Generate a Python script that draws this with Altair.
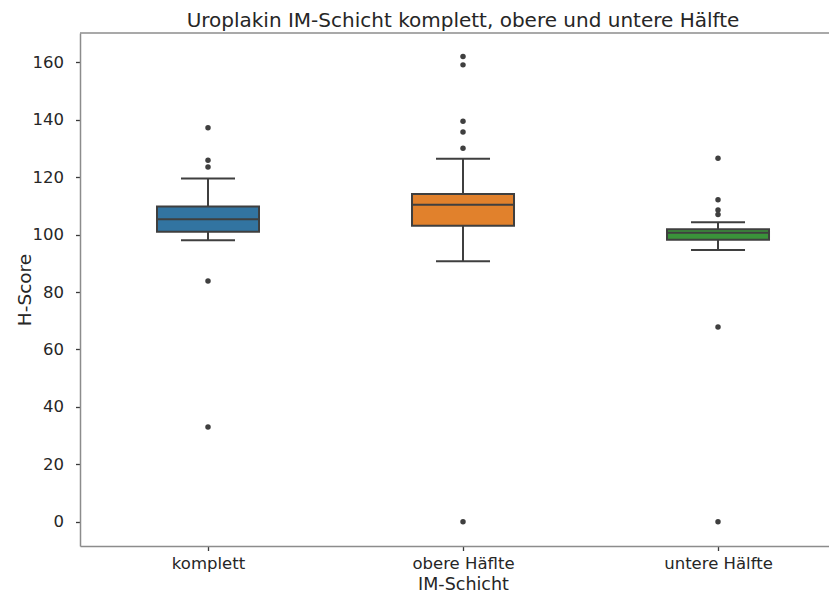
import altair as alt
import pandas as pd

categories = ["komplett", "obere Häflte", "untere Hälfte"]
q1 = [101.0, 103.1, 98.2]
median = [105.3, 110.4, 100.6]
q3 = [109.8, 114.1, 101.9]
whisker_low = [98.0, 90.7, 94.6]
whisker_high = [119.5, 126.4, 104.3]
outliers_komplett = [137.2, 125.9, 123.5, 83.8, 33.0]
outliers_obere = [162.0, 159.1, 139.5, 135.7, 130.1, 0.0]
outliers_untere = [126.6, 112.1, 108.6, 107.0, 67.8, 0.0]
box_colors = ["#3274a1", "#e1812c", "#3a923a"]
y_ticks = [0, 20, 40, 60, 80, 100, 120, 140, 160]
title_text = ["Uroplakin IM-Schicht komplett, obere und untere Hälfte"]

boxes = pd.DataFrame({
    "category": categories,
    "q1": q1,
    "median": median,
    "q3": q3,
    "wlo": whisker_low,
    "whi": whisker_high,
})

fl_cat, fl_val = [], []
for c, vals in zip(categories, [outliers_komplett, outliers_obere, outliers_untere]):
    fl_cat += [c] * len(vals)
    fl_val += vals
fliers = pd.DataFrame({"category": fl_cat, "value": fl_val})

EDGE = "#3f3f3f"
TEXT = "#262626"
FONT = "DejaVu Sans"
W, H = 749, 513

xscale = alt.Scale(type="point", domain=categories, padding=0.4686, align=0.5356)
xaxis = alt.Axis(title="IM-Schicht", labelAngle=0, labelPadding=5,
                 titleBaseline="alphabetic", titleY=43, titleX=383, titleFontSize=17.5)
yscale = alt.Scale(domain=[-8.45, 170.2], nice=False, zero=False)
yaxis = alt.Axis(title="H-Score", values=y_ticks, labelPadding=12,
                 titleBaseline="alphabetic", titleX=-50, titleAngle=270)


def X():
    return alt.X("category:N", sort=categories, scale=xscale, axis=xaxis)


def Y(field):
    return alt.Y(f"{field}:Q", scale=yscale, axis=yaxis)


base = alt.Chart(boxes)

whisk = base.mark_rule(color=EDGE, strokeWidth=2).encode(x=X(), y=Y("wlo"), y2="whi:Q")
box = base.mark_bar(size=102, stroke=EDGE, strokeWidth=2).encode(
    x=X(), y=Y("q1"), y2="q3:Q",
    color=alt.Color("category:N", scale=alt.Scale(domain=categories, range=box_colors), legend=None),
)
med = base.mark_tick(size=102, thickness=2, color=EDGE, opacity=1).encode(x=X(), y=Y("median"))
cap_lo = base.mark_tick(size=54, thickness=2, color=EDGE, opacity=1).encode(x=X(), y=Y("wlo"))
cap_hi = base.mark_tick(size=54, thickness=2, color=EDGE, opacity=1).encode(x=X(), y=Y("whi"))
pts = alt.Chart(fliers).mark_circle(size=30, color=EDGE, opacity=1).encode(x=X(), y=Y("value"))

top_line = alt.Chart(pd.DataFrame({"f": [0]})).mark_rule(color="#8c8c8c", strokeWidth=1.5).encode(
    x=alt.value(0), x2=alt.value(W), y=alt.value(0)
)

title = alt.Chart(pd.DataFrame({"t": title_text})).mark_text(
    font=FONT, fontSize=20, color=TEXT, align="center", baseline="alphabetic"
).encode(text="t:N", x=alt.value(383), y=alt.value(-6))

chart = alt.layer(whisk, box, med, cap_lo, cap_hi, pts, top_line, title).properties(
    width=W,
    height=H,
    autosize=alt.AutoSizeParams(type="none"),
    padding={"left": 72, "top": 25, "right": 0, "bottom": 47},
    view=alt.ViewBackground(stroke="transparent", strokeWidth=0, strokeOpacity=0),
).configure_view(strokeWidth=0, stroke="transparent", strokeOpacity=0).configure_axis(
    domainColor="#8c8c8c", domainWidth=1.5,
    tickColor="#3a3a3a", tickWidth=1.3, tickSize=4.5,
    labelColor=TEXT, titleColor=TEXT,
    labelFont=FONT, titleFont=FONT,
    labelFontSize=16.5, titleFontSize=18.5,
    titleFontWeight="normal", grid=False,
)

chart.save("out.html", embed_options={"renderer": "svg", "actions": False})
